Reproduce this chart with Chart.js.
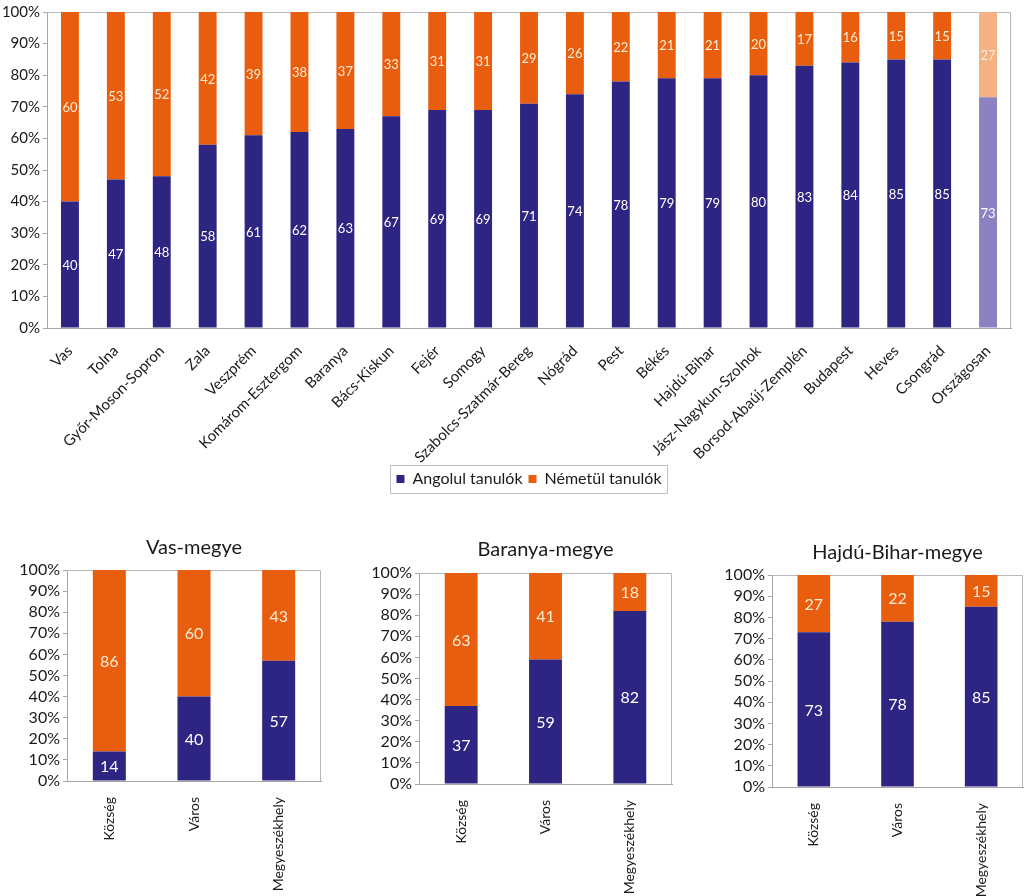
<!DOCTYPE html>
<html><head><meta charset="utf-8">
<script src="https://cdn.jsdelivr.net/npm/chart.js@4.4.0/dist/chart.umd.min.js"></script>
<style>
html,body{margin:0;padding:0;background:#fff;}
body{width:1024px;height:896px;position:relative;overflow:hidden;}
canvas{position:absolute;}
</style></head><body>
<canvas id="main" width="1024" height="500" style="left:0;top:0"></canvas>
<canvas id="vas" width="340" height="366" style="left:0;top:530px"></canvas>
<canvas id="baranya" width="340" height="366" style="left:340px;top:530px"></canvas>
<canvas id="hajdu" width="344" height="366" style="left:680px;top:530px"></canvas>
<script>
// ---- data ----
const categories = ['Vas','Tolna','Győr-Moson-Sopron','Zala','Veszprém','Komárom-Esztergom','Baranya','Bács-Kiskun','Fejér','Somogy','Szabolcs-Szatmár-Bereg','Nógrád','Pest','Békés','Hajdú-Bihar','Jász-Nagykun-Szolnok','Borsod-Abaúj-Zemplén','Budapest','Heves','Csongrád','Országosan'];
const angolul = [40,47,48,58,61,62,63,67,69,69,71,74,78,79,79,80,83,84,85,85,73];
const nemetul = [60,53,52,42,39,38,37,33,31,31,29,26,22,21,21,20,17,16,15,15,27];
const seriesNames = ['Angolul tanulók','Németül tanulók'];
const subCategories = ['Község','Város','Megyeszékhely'];
const vasAngol = [14,40,57];
const vasNemet = [86,60,43];
const baranyaAngol = [37,59,82];
const baranyaNemet = [63,41,18];
const hajduAngol = [73,78,85];
const hajduNemet = [27,22,15];
const subTitles = ['Vas-megye','Baranya-megye','Hajdú-Bihar-megye'];
const highlightCategory = 'Országosan';

// ---- style ----
const NAVY = '#2e2482', ORANGE = '#e95e0e', NAVY_L = '#8c82c2', ORANGE_L = '#f4b183';
const AXIS = '#a6a6a6', TEXT = '#1a1a1a';
Chart.defaults.font.family = 'Lato';
Chart.defaults.color = TEXT;

const valueLabels = {
  id: 'valueLabels',
  afterDatasetsDraw(chart, args, opts) {
    const ctx = chart.ctx;
    ctx.save();
    ctx.font = opts.size + 'px Lato';
    ctx.textAlign = 'center';
    ctx.textBaseline = 'middle';
    chart.data.datasets.forEach((ds, i) => {
      const meta = chart.getDatasetMeta(i);
      meta.data.forEach((el, j) => {
        const p = el.getProps(['x', 'y', 'base'], true);
        ctx.fillStyle = opts.colors[i];
        ctx.fillText(String(ds.data[j]), p.x, (p.y + p.base) / 2 + 1);
      });
    });
    ctx.restore();
  }
};
const plotBorder = {
  id: 'plotBorder',
  beforeDatasetsDraw(chart) {
    const {left, top, right, bottom} = chart.chartArea;
    const ctx = chart.ctx;
    ctx.save();
    ctx.strokeStyle = '#b8b8b8';
    ctx.lineWidth = 1;
    ctx.beginPath();
    ctx.moveTo(left, Math.round(top) + 0.5);
    ctx.lineTo(Math.round(right) - 0.5, Math.round(top) + 0.5);
    ctx.lineTo(Math.round(right) - 0.5, bottom);
    ctx.stroke();
    ctx.restore();
  }
};
const legendBorder = {
  id: 'legendBorder',
  afterDraw(chart) {
    const lg = chart.legend;
    if (!lg || !lg.legendHitBoxes || !lg.legendHitBoxes.length) return;
    let l = Infinity, r = -Infinity, t = Infinity, b = -Infinity;
    lg.legendHitBoxes.forEach(h => {
      l = Math.min(l, h.left); r = Math.max(r, h.left + h.width);
      t = Math.min(t, h.top); b = Math.max(b, h.top + h.height);
    });
    const ctx = chart.ctx;
    ctx.save();
    ctx.strokeStyle = '#c0c0c0';
    ctx.lineWidth = 1;
    ctx.strokeRect(Math.round(l - 6) + 0.5, Math.round(t - 6) + 0.5, Math.round(r - l + 12), Math.round(b - t + 12));
    ctx.restore();
  }
};

function colorFor(dark, light) {
  return c => (c.dataIndex !== undefined && c.chart.data.labels[c.dataIndex] === highlightCategory) ? light : dark;
}

new Chart(document.getElementById('main'), {
  type: 'bar',
  data: {
    labels: categories,
    datasets: [
      {label: seriesNames[0], data: angolul, backgroundColor: colorFor(NAVY, NAVY_L), borderWidth: 0},
      {label: seriesNames[1], data: nemetul, backgroundColor: colorFor(ORANGE, ORANGE_L), borderWidth: 0}
    ]
  },
  options: {
    responsive: false, animation: false,
    barPercentage: 0.39, categoryPercentage: 1.0,
    layout: {padding: {left: 0, right: 13, top: 10, bottom: 3}},
    scales: {
      x: {
        stacked: true,
        ticks: {minRotation: 45, maxRotation: 45, autoSkip: false, font: {size: 15}, color: TEXT, padding: 6},
        grid: {display: false},
        border: {display: true, color: AXIS},
        afterFit(s) { s.height = 137; }
      },
      y: {
        stacked: true, min: 0, max: 100,
        ticks: {stepSize: 10, autoSkip: false, callback: v => v + '%', font: {size: 15}, color: TEXT, padding: 3},
        grid: {display: true, drawOnChartArea: false, drawTicks: true, tickLength: 4, color: AXIS},
        border: {display: true, color: AXIS},
        afterFit(s) { s.width = 47; }
      }
    },
    plugins: {
      legend: {
        position: 'bottom', fullSize: false,
        labels: {boxWidth: 8, boxHeight: 8, padding: 6, font: {size: 16}, color: TEXT}
      },
      tooltip: {enabled: false},
      valueLabels: {size: 13, colors: ['#ffffff', '#fdebd3']}
    }
  },
  plugins: [valueLabels, plotBorder, legendBorder]
});

function makeSmall(id, title, angol, nemet, yWidth, padRight, titlePad, xHeight) {
  new Chart(document.getElementById(id), {
    type: 'bar',
    data: {
      labels: subCategories,
      datasets: [
        {label: seriesNames[0], data: angol, backgroundColor: NAVY, borderWidth: 0},
        {label: seriesNames[1], data: nemet, backgroundColor: ORANGE, borderWidth: 0}
      ]
    },
    options: {
      responsive: false, animation: false,
      barPercentage: 0.39, categoryPercentage: 1.0,
      layout: {padding: {left: 0, right: padRight, top: 0, bottom: 0}},
      scales: {
        x: {
          stacked: true,
          ticks: {minRotation: 90, maxRotation: 90, autoSkip: false, font: {size: 14}, color: TEXT, padding: 8},
          grid: {display: false},
          border: {display: true, color: AXIS},
          afterFit(s) { s.height = xHeight; }
        },
        y: {
          stacked: true, min: 0, max: 100,
          ticks: {stepSize: 10, autoSkip: false, callback: v => v + '%', font: {size: 16}, color: TEXT, padding: 3},
          grid: {display: true, drawOnChartArea: false, drawTicks: true, tickLength: 4, color: AXIS},
          border: {display: true, color: AXIS},
          afterFit(s) { s.width = yWidth; }
        }
      },
      plugins: {
        legend: {display: false},
        tooltip: {enabled: false},
        title: {display: true, text: title, fullSize: false, color: TEXT, font: {size: 20, weight: 'normal'}, padding: titlePad},
        valueLabels: {size: 16, colors: ['#ffffff', '#fdebd3']}
      }
    },
    plugins: [valueLabels, plotBorder]
  });
}
makeSmall('vas', subTitles[0], vasAngol, vasNemet, 67, 19, {top: 6, bottom: 10}, 115);
makeSmall('baranya', subTitles[1], baranyaAngol, baranyaNemet, 79, 8, {top: 8, bottom: 11}, 112);
makeSmall('hajdu', subTitles[2], hajduAngol, hajduNemet, 92, 1, {top: 11, bottom: 10}, 109);
</script>
</body></html>
